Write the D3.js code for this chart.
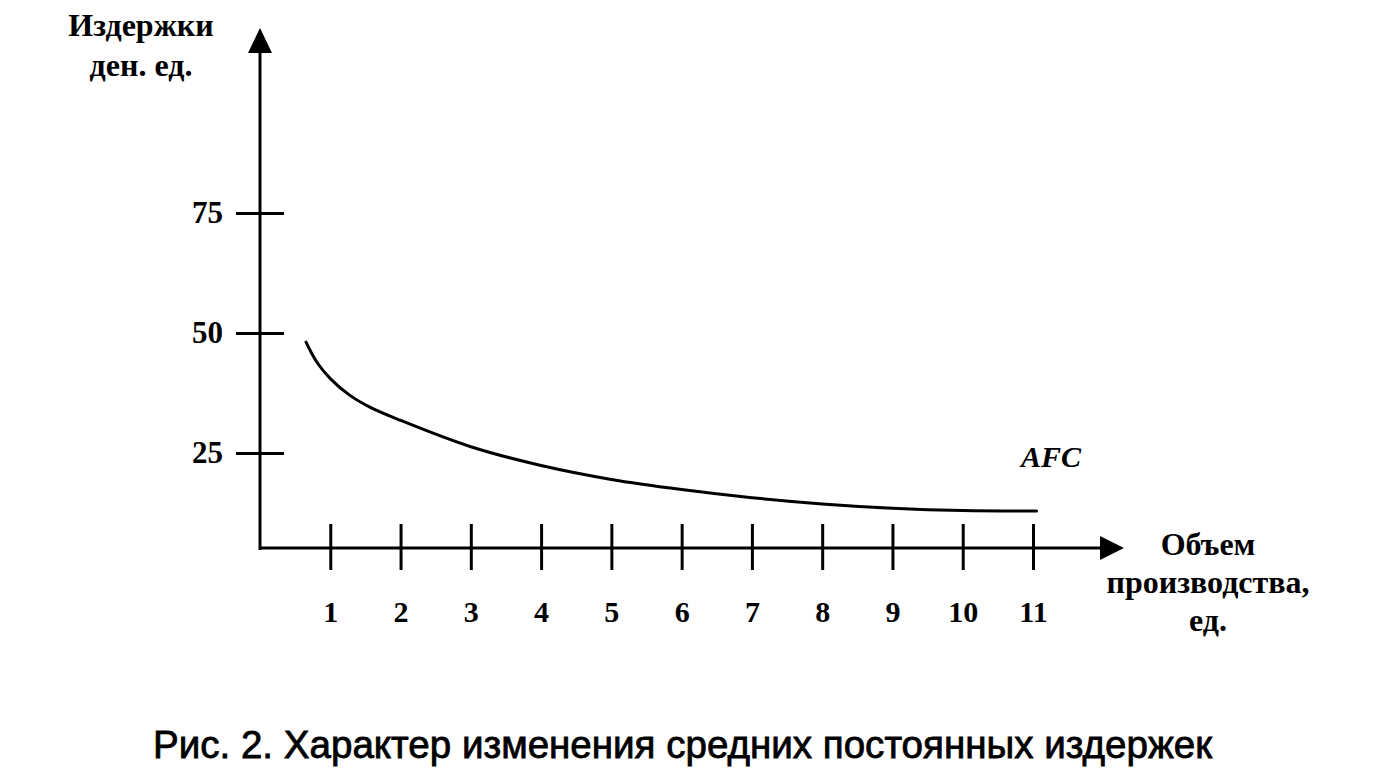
<!DOCTYPE html>
<html>
<head>
<meta charset="utf-8">
<script src="https://cdn.jsdelivr.net/npm/d3@7"></script>
<style>
  html, body { margin: 0; padding: 0; background: #fff; }
  svg { display: block; }
  .serif { font-family: "Liberation Serif", "Times New Roman", serif; fill: #000; }
</style>
</head>
<body>
<svg id="chart" width="1389" height="771"></svg>
<script>
// ---- data ----
const xTickValues = [1, 2, 3, 4, 5, 6, 7, 8, 9, 10, 11];
const xTickLabels = ["1", "2", "3", "4", "5", "6", "7", "8", "9", "10", "11"];
const yTickValues = [25, 50, 75];
const yTickLabels = ["25", "50", "75"];
const afcQuantity = [0.655, 0.81, 1.0, 1.28, 1.57, 2.0, 3.0, 4.0, 5.0, 6.0, 7.0, 8.0, 9.0, 10.0, 11.05];
const afcValues   = [48.1, 43.9, 40.5, 37.0, 34.5, 31.8, 26.3, 22.4, 19.5, 17.4, 15.7, 14.4, 13.5, 13.0, 12.9];
const yTitle = ["Издержки", "ден. ед."];
const xTitle = ["Объем", "производства,", "ед."];
const curveLabel = "AFC";
const caption = "Рис. 2. Характер изменения средних постоянных издержек";

// ---- layout ----
const svg = d3.select("#chart");
const originX = 260, axisY = 548;
const x = d3.scaleLinear().domain([0, 11]).range([originX, 1033]);
const y = d3.scaleLinear().domain([0, 75]).range([573, 213]);

// axes lines
svg.append("line").attr("x1", originX).attr("x2", originX)
  .attr("y1", axisY + 2).attr("y2", 50)
  .attr("stroke", "#000").attr("stroke-width", 3);
svg.append("path")
  .attr("d", `M${originX},28 L${originX - 12},53 L${originX + 12},53 Z`)
  .attr("fill", "#000");
svg.append("line").attr("x1", originX - 1).attr("x2", 1102)
  .attr("y1", axisY).attr("y2", axisY)
  .attr("stroke", "#000").attr("stroke-width", 3);
svg.append("path")
  .attr("d", `M1124,${axisY} L1100,${axisY - 12} L1100,${axisY + 12} Z`)
  .attr("fill", "#000");

// y axis ticks (crossing) via d3 axis
const yAxis = d3.axisLeft(y).tickValues(yTickValues)
  .tickFormat((d, i) => yTickLabels[i]).tickSize(24).tickPadding(13);
const gy = svg.append("g").attr("transform", `translate(${originX},0)`).call(yAxis);
gy.select(".domain").remove();
gy.selectAll(".tick line").attr("x1", -24).attr("x2", 24)
  .attr("stroke", "#000").attr("stroke-width", 3);
gy.selectAll(".tick text").attr("class", "serif")
  .style("font-size", "31px").style("font-weight", "bold")
  .attr("font-family", null).attr("fill", "#000");

// x axis ticks (crossing)
const xAxis = d3.axisBottom(x).tickValues(xTickValues)
  .tickFormat((d, i) => xTickLabels[i]).tickSize(24).tickPadding(29);
const gx = svg.append("g").attr("transform", `translate(0,${axisY})`).call(xAxis);
gx.select(".domain").remove();
gx.selectAll(".tick line").attr("y1", -24).attr("y2", 22)
  .attr("stroke", "#000").attr("stroke-width", 3);
gx.selectAll(".tick text").attr("class", "serif")
  .style("font-size", "30px").style("font-weight", "bold")
  .attr("font-family", null).attr("fill", "#000");

// AFC curve
const pts = afcQuantity.map((q, i) => [q, afcValues[i]]);
const line = d3.line().x(d => x(d[0])).y(d => y(d[1])).curve(d3.curveCatmullRom.alpha(0.5));
svg.append("path").datum(pts).attr("d", line)
  .attr("fill", "none").attr("stroke", "#000").attr("stroke-width", 3)
  .attr("stroke-linecap", "round");

// curve label
svg.append("text").attr("class", "serif")
  .attr("x", 1021).attr("y", 467)
  .style("font-size", "30px").style("font-style", "italic").style("font-weight", "bold")
  .text(curveLabel);

// y title
svg.append("text").attr("class", "serif").attr("text-anchor", "middle")
  .attr("x", 141).attr("y", 36).style("font-size", "32px").style("font-weight", "bold")
  .text(yTitle[0]);
svg.append("text").attr("class", "serif").attr("text-anchor", "middle")
  .attr("x", 141).attr("y", 76).style("font-size", "32px").style("font-weight", "bold")
  .text(yTitle[1]);

// x title
const xTitleY = [555, 593, 631];
xTitle.forEach((t, i) => {
  svg.append("text").attr("class", "serif").attr("text-anchor", "middle")
    .attr("x", 1208).attr("y", xTitleY[i]).style("font-size", "32px").style("font-weight", "bold")
    .text(t);
});

// caption
svg.append("text")
  .attr("x", 153).attr("y", 758)
  .attr("textLength", 1059).attr("lengthAdjust", "spacingAndGlyphs")
  .style("font-family", "'Liberation Sans', Arial, sans-serif")
  .style("font-size", "38px").attr("fill", "#000")
  .attr("stroke", "#000").attr("stroke-width", 0.8)
  .text(caption);
</script>
</body>
</html>
